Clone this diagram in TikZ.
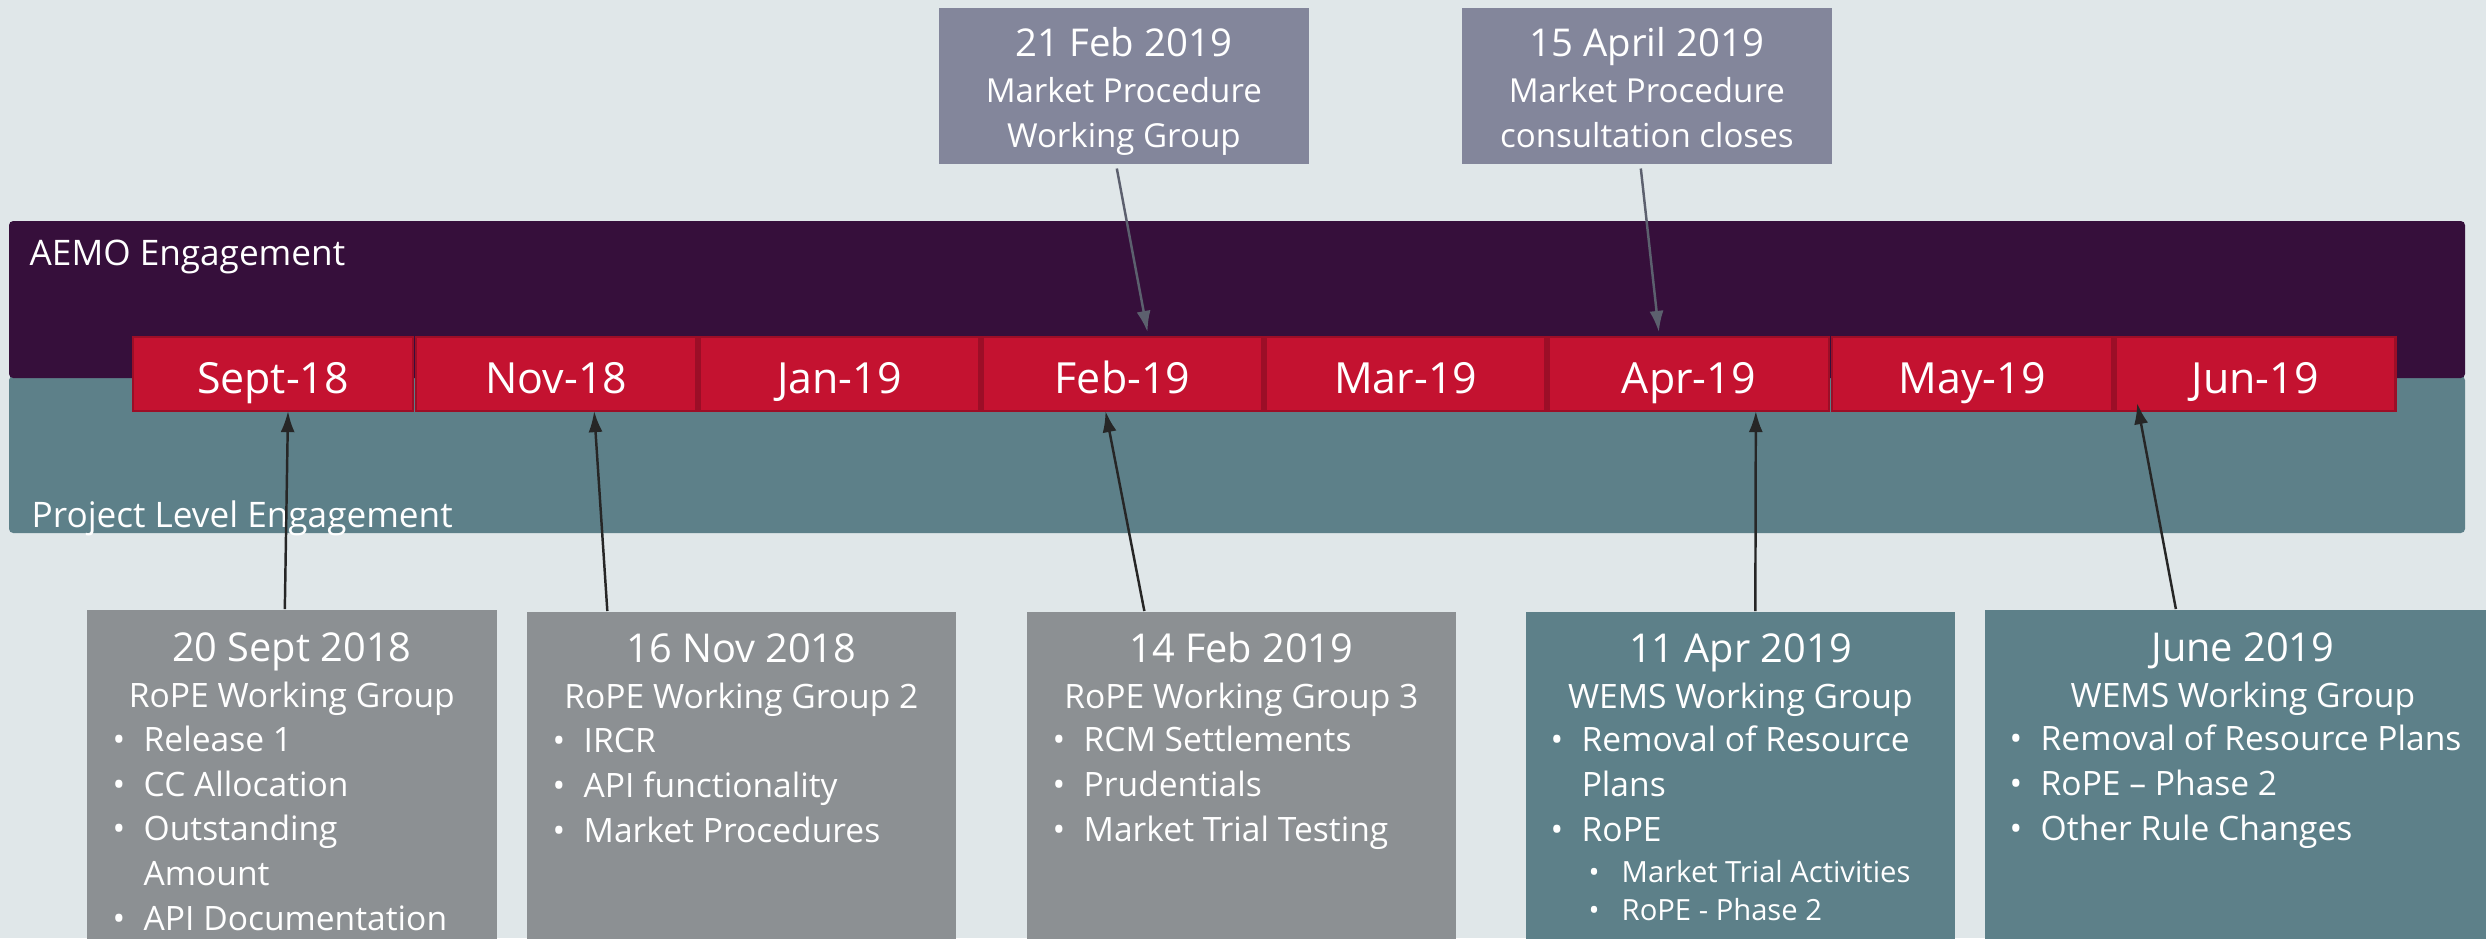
\documentclass[tikz,border=0pt]{standalone}
\usepackage{fontspec}
\setmainfont{Open Sans}
\usepackage{tikz}
\usetikzlibrary{calc}
\usetikzlibrary{arrows.meta,positioning}

\definecolor{bgcol}{HTML}{E0E7E9}
\definecolor{aemo}{HTML}{360F3B}
\definecolor{proj}{HTML}{5D8089}
\definecolor{monthred}{HTML}{C41230}
\definecolor{monthedge}{HTML}{9C0E27}
\definecolor{wgray}{HTML}{8C9093}
\definecolor{mpgray}{HTML}{83869B}
\definecolor{arrgray}{HTML}{5C606E}

\newcommand{\blt}{\makebox[0.31cm][l]{\textbullet}}
\newcommand{\sblt}{\makebox[0.33cm][l]{\textbullet}}

\begin{document}
\begin{tikzpicture}[
    x=0.01cm, y=-0.01cm,
    month/.style={draw=monthedge,line width=0.8pt,fill=monthred,text=white,minimum width=2.8cm,minimum height=0.74cm,text height=0.38cm,text depth=0cm,inner sep=0pt,outer sep=0pt,font=\fontsize{12.2pt}{14pt}\selectfont},
    callout/.style={fill=mpgray,anchor=north west,minimum width=3.7cm,minimum height=1.56cm,inner sep=0pt},
    wgbox/.style={anchor=north west,minimum width=4.29cm,minimum height=3.6cm,inner sep=0pt},
    wghead/.style={text=white,anchor=base,align=center,inner sep=0pt,font=\fontsize{9.55pt}{13pt}\selectfont},
    wglist/.style={text=white,anchor=base west,align=left,inner sep=0pt,font=\fontsize{9.55pt}{12.66pt}\selectfont},
    bandlabel/.style={text=white,anchor=base west,inner sep=0pt,font=\fontsize{10pt}{12pt}\selectfont},
    mparrow/.style={-{Latex[length=6pt,width=4pt]},arrgray,line width=0.7pt},
    wgarrow/.style={-{Latex[length=6pt,width=4pt]},black!85,line width=0.7pt},
]
    \fill[bgcol] (0,0) rectangle (2486,938);
    \useasboundingbox (0,0) rectangle (2486,938);

    %bands
    \fill[proj,rounded corners=1.2pt] (9,376) rectangle (2465,533);
    \fill[aemo,rounded corners=1.2pt] (9,221) rectangle (2465,378);
    \node[bandlabel] (aemolbl) at (29,265) {AEMO Engagement};
    \node[bandlabel] (projlbl) at (31,527) {Project Level Engagement};

    %months
    \node[month] (m1) at (273,374) {Sept-18};
    \node[month,right=0.03cm of m1] (m2) {Nov-18};
    \node[month,right=0.03cm of m2] (m3) {Jan-19};
    \node[month,right=0.03cm of m3] (m4) {Feb-19};
    \node[month,right=0.03cm of m4] (m5) {Mar-19};
    \node[month,right=0.03cm of m5] (m6) {Apr-19};
    \node[month,right=0.03cm of m6] (m7) {May-19};
    \node[month,right=0.03cm of m7] (m8) {Jun-19};

    %market procedure callouts
    \node[callout] (c1) at (938,7) {};
    \node[callout] (c2) at (1461,7) {};
    \node[wghead,font=\fontsize{9.4pt}{12.8pt}\selectfont] (c1t) at ($(c1.north)+(0,140)$) {{\fontsize{10.9pt}{12.8pt}\selectfont 21 Feb 2019}\\Market Procedure\\Working Group};
    \node[wghead,font=\fontsize{9.4pt}{12.8pt}\selectfont] (c2t) at ($(c2.north)+(0,140)$) {{\fontsize{10.9pt}{12.8pt}\selectfont 15 April 2019}\\Market Procedure\\consultation closes};

    %working groups
    \node[wgbox,fill=wgray,minimum width=4.1cm] (b1) at (86,609) {};
    \node[wgbox,fill=wgray] (b2) at (526,611) {};
    \node[wgbox,fill=wgray] (b3) at (1026,611) {};
    \node[wgbox,fill=proj] (b4) at (1525,611) {};
    \node[wgbox,fill=proj,minimum width=5.16cm] (b5) at (1984,609) {};

    \node[wghead] (b1h) at ($(b1.north)+(0,98)$) {{\fontsize{11.3pt}{13pt}\selectfont 20 Sept 2018}\\RoPE Working Group};
    \node[wghead] (b2h) at ($(b2.north)+(0,97)$) {{\fontsize{11.3pt}{13pt}\selectfont 16 Nov 2018}\\RoPE Working Group 2};
    \node[wghead] (b3h) at ($(b3.north)+(0,97)$) {{\fontsize{11.3pt}{13pt}\selectfont 14 Feb 2019}\\RoPE Working Group 3};
    \node[wghead] (b4h) at ($(b4.north)+(0,97)$) {{\fontsize{11.3pt}{13pt}\selectfont 11 Apr 2019}\\WEMS Working Group};
    \node[wghead] (b5h) at ($(b5.north)+(0,98)$) {{\fontsize{11.3pt}{13pt}\selectfont June 2019}\\WEMS Working Group};

    \node[wglist] (b1l) at ($(b1.north west)+(26,321)$) {\blt Release 1\\\blt CC Allocation\\\blt Outstanding\\\hspace*{0.31cm}Amount\\\blt API Documentation};
    \node[wglist] (b2l) at ($(b2.north west)+(26,231)$) {\blt IRCR\\\blt API functionality\\\blt Market Procedures};
    \node[wglist] (b3l) at ($(b3.north west)+(26,230)$) {\blt RCM Settlements\\\blt Prudentials\\\blt Market Trial Testing};
    \node[wglist] (b4l) at ($(b4.north west)+(25,230)$) {\blt Removal of Resource\\\hspace*{0.31cm}Plans\\\blt RoPE};
    \node[wglist,font=\fontsize{8.3pt}{10.8pt}\selectfont] (b4s) at ($(b4.north west)+(63,309)$) {\sblt Market Trial Activities\\\sblt RoPE - Phase 2};
    \node[wglist] (b5l) at ($(b5.north west)+(25,231)$) {\blt Removal of Resource Plans\\\blt RoPE -- Phase 2\\\blt Other Rule Changes};

    %arrows
    \draw[mparrow] ($(c1.south)+(-7,4)$) -- ($(m4.north)+(25,-5)$);
    \draw[mparrow] ($(c2.south)+(-6,4)$) -- ($(m6.north)+(-30,-5)$);

    \draw[wgarrow] ($(b1.north)+(-7,0)$) -- ($(m1.south)+(15,0)$);
    \draw[wgarrow] ($(b2.north)+(-134,0)$) -- ($(m2.south)+(38,0)$);
    \draw[wgarrow] ($(b3.north)+(-97,0)$) -- ($(m4.south)+(-17,0)$);
    \draw[wgarrow] ($(b4.north)+(15,0)$) -- ($(m6.south)+(67,0)$);
    \draw[wgarrow] ($(b5.north)+(-67,0)$) -- ($(m8.south)+(-118,-8)$);
\end{tikzpicture}
\end{document}
